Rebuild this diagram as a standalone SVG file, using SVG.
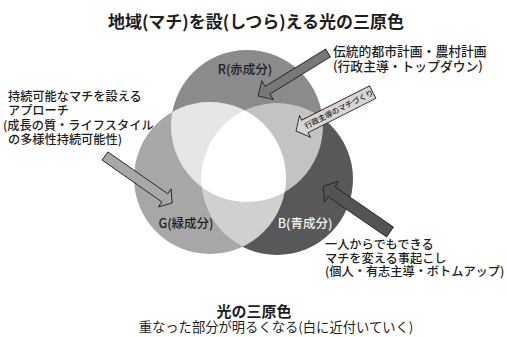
<svg xmlns="http://www.w3.org/2000/svg" width="507" height="337" viewBox="0 0 507 337">
<style>
.t{font-family:"Noto Sans CJK JP","Noto Sans",sans-serif;fill:#1e1e1e;}
.ttl{font-size:17px;font-weight:bold;}
.ann{font-size:12.2px;font-weight:500;}
.lbl{font-size:12.5px;font-weight:500;}
.arr{stroke:#262626;stroke-width:0.9;stroke-linejoin:miter;}
</style>
<defs>
<clipPath id="cR"><circle cx="247" cy="126" r="76"/></clipPath>
<clipPath id="cG"><circle cx="210" cy="178" r="76"/></clipPath>
</defs>
<rect width="507" height="337" fill="#ffffff"/>
<text class="t ttl" x="256" y="28" text-anchor="middle">地域(マチ)を設(しつら)える光の三原色</text>

<g id="circles">
<g id="circle-r"><circle cx="247" cy="126" r="76" fill="#8b8b8b"/></g>
<g id="circle-g"><circle cx="210" cy="178" r="76" fill="#a7a7a7"/></g>
<g id="circle-b"><circle cx="277" cy="179" r="76" fill="#585858"/></g>
<circle cx="210" cy="178" r="76" fill="#e5e5e5" clip-path="url(#cR)"/>
<circle cx="277" cy="179" r="76" fill="#c3c3c3" clip-path="url(#cR)"/>
<circle cx="277" cy="179" r="76" fill="#d0d0d0" clip-path="url(#cG)"/>
<g clip-path="url(#cR)"><circle cx="277" cy="179" r="76" fill="#ffffff" clip-path="url(#cG)"/></g>
<text class="t lbl" x="245" y="73.5" text-anchor="middle" fill="#262626">R(赤成分)</text>
<text class="t lbl" x="186" y="227.5" text-anchor="middle">G(緑成分)</text>
<text class="t lbl" x="305" y="227.5" text-anchor="middle" style="fill:#f2f2f2">B(青成分)</text>
</g>

<g id="connectors">
<polygon class="arr" fill="#787878" transform="translate(328,53) rotate(148.4)" points="0,-4.5 71,-4.5 71,-11 82,0 71,11 71,4.5 0,4.5"/>
<polygon class="arr" fill="#a8a8a8" transform="translate(105,156) rotate(35)" points="0,-5 73,-5 73,-11 82,0 73,11 73,5 0,5"/>
<polygon class="arr" fill="#545454" transform="translate(390,232) rotate(214.5)" points="0,-6 71,-6 71,-12.5 81,0 71,12.5 71,6 0,6"/>
<g transform="translate(296,131) rotate(-26.9)">
<polygon class="arr" fill="#d6d6d6" points="0,0 10,-12 10,-7 86,-7 86,7 10,7 10,12"/>
<text class="t" x="48" y="2.8" text-anchor="middle" style="font-size:7.6px;font-weight:500">行政主導のマチづくり</text>
</g>
</g>

<g id="note-top">
<text class="t ann" x="333" y="56" style="font-size:12.8px">伝統的都市計画・農村計画</text>
<text class="t ann" x="333" y="70.5" style="font-size:12.8px">(行政主導・トップダウン)</text>
</g>
<g id="note-left">
<text class="t ann" x="8" y="101">持続可能なマチを設える</text>
<text class="t ann" x="8" y="115.3">アプローチ</text>
<text class="t ann" x="3" y="129.6">(成長の質・ライフスタイル</text>
<text class="t ann" x="8" y="143.9">の多様性持続可能性)</text>
</g>
<g id="note-bottom">
<text class="t ann" x="325" y="249">一人からでもできる</text>
<text class="t ann" x="325" y="262.5">マチを変える事起こし</text>
<text class="t ann" x="325" y="276">(個人・有志主導・ボトムアップ)</text>
</g>
<g id="caption">
<text class="t" x="254" y="316.5" text-anchor="middle" style="font-size:15px;font-weight:bold">光の三原色</text>
<text class="t" x="276" y="331.5" text-anchor="middle" style="font-size:13.3px">重なった部分が明るくなる(白に近付いていく)</text>
</g>
</svg>
